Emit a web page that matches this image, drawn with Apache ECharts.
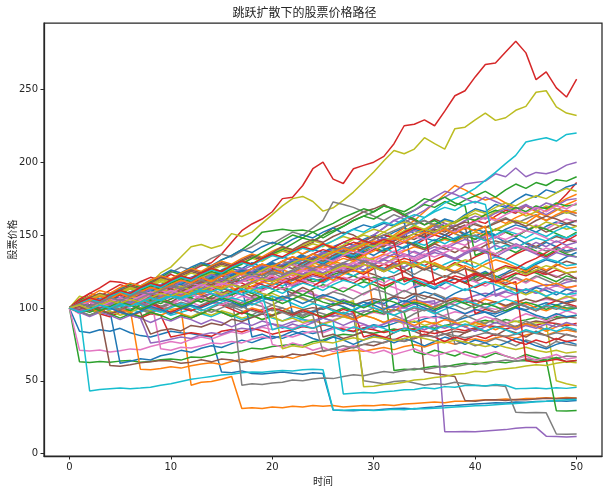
<!DOCTYPE html>
<html><head><meta charset="utf-8">
<script src="https://cdn.jsdelivr.net/npm/echarts@6/dist/echarts.min.js"></script>
<style>html,body{margin:0;padding:0;background:#fff}#c{width:609px;height:493px}</style>
</head><body><div id="c"></div>
<script>
const timeSteps = [0,1,2,3,4,5,6,7,8,9,10,11,12,13,14,15,16,17,18,19,20,21,22,23,24,25,26,27,28,29,30,31,32,33,34,35,36,37,38,39,40,41,42,43,44,45,46,47,48,49,50];
const xTicks = [0,10,20,30,40,50];
const yTicks = [0,50,100,150,200,250];
const titleText = '跳跃扩散下的股票价格路径';
const xName = '时间';
const yName = '股票价格';

const path00 = [100,84,83,85,84,86,83,81,80,82, 84,83,82.5,81,80,56,55.5,56.8,55,54.6, 55.3,56,55.2,54.5,55.6,55,30,29.6,29.5,30, 29.8,30.5,31,31.2,30.6,31.5,32,32.8,33,33.5, 34,34.5,35,34.8,35.5,35.2,35.8,36,36.3,36, 36.4];
const path01 = [100,103,101,104,106,103,105,102,104,101, 99,100,47,49,49.5,51,53,31,31.5,31, 32,31.5,32.5,32,33,32.6,33,32,32.5,33, 32.8,33.5,33,34,34.5,35,35.5,35,36,36, 36.5,37,37,37.5,37,37.8,38,38.4,38,38.5, 38.2];
const path02 = [100,63,62.5,63.2,62.8,63.5,64,62.7,63.3,64.5, 65,64.2,66.3,66,67.5,69.8,69,70.5,72.4,71.8, 73.5,74.2,75,74.3,76.8,78,80.5,82,81.2,83.5, 82.7,84,85.6,84.2,86,87.3,86.1,88,89.4,88.2, 90,91.5,89.8,92,90.6,91.8,93.5,92.1,94,93.2, 95];
const path03 = [100,105,110,113.8,118.3,117.6,116,112,110.8,112.4, 114.2,119,125.5,129,131,137,145,153,157.6,161, 166,175,176,184,195.5,200,188.4,185.4,195.5,197.8, 200,204,212.7,225,226,229,225,235,245.6,249, 258.5,267,268,275.6,283,275,256.6,262,251,244.7, 257];
const path04 = [100,102,99,101,104,106,103,100,102,105, 108,106,104,107,110,108,111,109,106,108, 105,107,110,112,109,107,104,106,103,101, 104,102,100,103,106,104,105,15,15,15.2, 15,15.5,16,16.5,17.5,18,18,12,11.8,11.5, 11.8];
const path05 = [100,98,101,103,100,97,99,102,104,101, 103,106,104,108,110,107,109,112,115,113, 116,118,115,117,120,118,121,119,122,125, 123,120,122,125,121,56,55,54,53,36.5, 36,36.8,37,36.5,37.2,37,37.5,38,37.6,38, 38];
const path06 = [100,71,70.5,71.2,69.8,70.6,71.9,71.3,73.5,75.2, 77,75.8,78.4,80.1,78.6,81.3,83.7,82.2,84.5,86.8, 85.1,87.6,86,88.9,91.2,89.5,91.7,94,92.3,94.8, 97,95.4,97.9,100.3,98.1,100.6,103,101.2,103.8,106.1, 104.3,106.9,109.5,107.2,109.8,112.4,110.1,112.7,115.2,113, 115.6];
const path07 = [100,103,105,102,104,107,105,108,106,109, 111,108,106,104,107,105,102,100,103,101, 98,100,97,95,98,96,94,97,95,50, 49,48,49.5,50,48.5,47,48,47.5,49,48, 47,46.5,47,46,28.5,28,28.3,28,13.5,13.4, 13.5];
const path08 = [100,108,106,104,108,111,113,115,117,124, 128,135,142,143.5,141,143,151,149,152,158, 164,170,175,176.5,173,166.4,168.7,173.8,179.5,186.4, 193.3,201,208,205.8,209,216.8,212.7,209,223,224, 229,233.7,228.7,230.5,235.6,238.3,248,249,238,233.7, 232];
const path09 = [100,98,43,44,44.5,45,44.6,45,45.5,47, 48,49.5,51,52,53,54,54.5,55.5,56,55.8, 56.5,57,56.8,57.5,58,57.6,30,29.8,30.2,30, 29.7,30,30.4,30.2,31,30.8,31.2,31.5,32,32.3, 32.8,33,33.5,34,34.5,35,35.6,36,36.5,37, 37.2];
const path10 = [100,102,99,101,98,62,63.4,65.1,64.3,67.2, 68.5,70.9,69.6,72.3,74,72.8,75.5,77.9,76.2,78.8, 80.6,79.1,81.7,83.9,82.4,84.1,86.6,85,83.7,86.2, 88.5,87.1,89.4,91.8,90.2,92.5,94.1,92.7,91,93.3, 95.6,97.2,95.9,98.3,100.4,98.8,101.1,103.5,101.9,104.2, 106];
const path11 = [100,104,102,105,103,101,99,58,57.5,58.4, 59.6,58.7,60.3,61.5,62.4,61.2,63.3,64.8,62.9,64.4, 65.7,66.9,65.4,67.6,68.8,66.7,68.5,69.9,71,70.2, 71.6,72.9,71.4,73.5,74.8,73.2,75.6,76.9,75.1,77.4, 78.8,77.3,79.5,80.7,79.1,81.4,82.9,81.3,83.6,84.8, 83.5];
const path12 = [100,104,107,103,106,109,111,108,112,110, 113,116,114,117,115,119,121,118,120,123, 119,122,124,121,118,120,123,125,122,119, 121,119,57,58,57.5,59,60,59.5,61,62, 61.2,62.5,63,62.4,63.5,64,63.2,64.5,29.5,29.3, 29.6];
const path13 = [100,97,99,96,94,97,95,93,96,95, 80,81.5,83,82,80.5,84,85.2,83.5,86,84.3, 82,83.6,85,87.2,86,88.4,87,85.5,84,86.3, 85,83.2,84.6,86,85.1,83.7,82.5,84,85.8,84.3, 86.5,88,87.2,85.6,87.4,89,88.1,90,89.3,87.8, 89.5];
const path14 = [100,98,101,99,96,98,95,93,76,77, 78.5,80,79,81.5,83,82,84.5,86,85,87.5, 89,88,90.5,92,91,93.6,95,94,96.5,98, 97,99.5,101,100,102.6,104,103,105.8,107,106, 108.5,110,109,111.6,113,112,114.5,116,115,117.6, 119];
const path15 = [100,102,99,97,60.5,60,61,62.3,63,64, 63.5,62,62.8,64.5,63,65,64.2,62.6,64,65.5, 67,66,68.4,67.5,69,70.6,72,71,73.4,75, 74,76.5,78,77.2,79,81,80.3,82,84,83, 85.5,84,86.8,88,87,89.4,91,90,92.6,94, 93];
const path16 = [100,103,101,104,106,109,107,105,108,72, 71,73,72.5,74,76,75.5,77,76,78.5,80, 79,81,80,82.5,84,83,85.6,87,86,88.4, 87,89,91,90,92.5,94,93,95,97.4,96, 98,100.5,99,101,103,102,104.5,106,105,107, 109];
const path17 = [100,103,106,104,108,111,109,113,110,114, 112,115,118,116,113,110,112,47,48,47.5, 48.5,49,50.5,50,51.2,52,51.5,53,54.2,53.5, 55,56.4,55.6,57,58.5,57.8,59,60.4,59.6,61, 62.3,61.5,63,64.2,63.4,65,64.6,66,65.3,67, 66.5];
const path18 = [100,98,101,99,103,105,102,100,104,106, 103,101,104,107,105,108,106,103,105,108, 110,107,109,106,104,107,105,103,105,46, 46.3,47.5,48,49,50.5,51,52.3,53,54.5,55, 56.6,56,57.5,58.3,59,60.2,61,60.5,62,63, 62.4];
const path19 = [100,103,101,98,100,102,99,97,100,98, 95,97,99,96,94,97,95,92,94,96, 93,91,94,92,90,93,91,41,41.5,42, 41.6,42.5,43,43.8,44,45.2,44.6,46,45.5,46.8, 47,46.4,47.5,47,44.5,44.8,45,44.5,45.2,44.8, 45.5];
const path20 = [100,104,102,106,109,107,111,114,112,116, 119,117,121,124,122,126,129,127,131,128, 132,135,133,137,140,138,142,145,143,147, 150,148,152,155,151,148,152,150,154,151, 149,153,150,154,157,155,152,156,159,157, 160];
const path21 = [100,97,100,103,101,105,108,106,104,107, 110,113,111,115,118,116,120,123,121,119, 122,126,124,128,131,129,133,136,134,138, 141,145,150,155,160,166,172,178,184,181, 177,174,176,172,168,170,166,163,167,171, 174];
const path22 = [100,105,108,106,110,113,116,114,118,121, 125,123,127,130,128,133,136,140,145,152, 153,154,153,153.5,152,148,152,156,160,163, 166,170,168,164,167,171,169,173,170,174, 177,180,176,181,185,182,186,184,188,187, 190];
const path23 = [100,102,99,103,106,104,108,111,109,113, 110,114,117,115,119,116,120,123,121,125, 128,126,130,127,131,134,132,136,133,137, 140,138,142,145,143,147,150,148,152,156, 160,158,163,167,165,170,168,169,171,178, 186];
const path24 = [100,103,107,105,109,112,110,114,117,115, 119,116,120,123,121,125,122,126,129,127, 131,128,132,135,133,137,140,138,142,145, 150,155,160,158,163,167,172,176,180,185, 186,187,192,190,196,190,193,192,194,198, 200];
const path25 = [100,104,101,105,108,112,109,113,116,120, 118,122,125,123,127,130,128,132,135,133, 137,140,138,142,145,150,155,158,162,166, 168,171,167,163,160,157,161,158,154,150, 147,151,148,152,149,153,156,152,155,158, 156];
const path26 = [100,98,102,105,103,107,104,108,111,109, 106,110,113,111,115,112,116,119,117,120, 118,122,125,123,126,129,127,131,128,132, 135,133,137,140,138,135,139,142,145,143, 147,150,148,152,155,153,157,154,158,161, 159];
const path27 = [100,103,106,104,108,111,115,113,117,120, 124,128,126,130,134,137,135,139,142,146, 144,148,152,150,155,160,172.7,171,169,166, 163,160,164,161,157,160,156,153,157,154, 158,155,159,162,158,161,164,160,163,166, 163];
const path28 = [100,97,99,96,98,95,97,100,98,101, 99,96,94,97,95,98,96,93,95,92, 94,91,93,90,92,89,91,94,92,95, 93,90,92,89,91,88,90,87,89,91, 88,90,92,89,91,88,90,89,50,48, 46.5];
const path29 = [100,102,105,103,107,104,108,111,109,113, 116,114,118,115,119,122,120,124,121,125, 128,126,130,133,131,135,138,136,140,143, 141,145,148,152,157,162,167,172,175,178, 182,187.5,193,199,204.7,213.8,215.4,216.8,214.5,219, 220];
const path30 = [100,104,108,106,110,113,117,115,119,122, 126,124,128,131,129,133,136,140,138,142, 145,143,147,150,148,152,155,151,154,157, 155,158,156,160,114,116,113,117,120,118, 122,125,121,124,128,126,130,133,131,135, 138];
const path31 = [100,99,102,100,104,107,105,103,106,109, 112,110,108,111,114,117,115,119,122,120, 118,121,124,127,125,129,132,130,127,131, 134,137,135,139,142,140,144,147,145,149, 152,150,154,157,160,158,163,167,171,175, 178];
const path32 = [100,103,100,97,101,104,102,106,109,107, 111,114,112,116,113,117,120,118,122,125, 123,127,130,128,132,135,133,137,134,138, 141,139,143,146,144,141,145,148,146,150, 147,151,154,152,149,153,156,154,151,148, 152];
const path33 = [100,106,110,108,112,116,114,118,121,119, 123,120,117,121,124,122,118,121,125,123, 127,124,120,123,127,130,128,125,129,132, 130,127,131,134,132,129,133,136,134,131, 135,138,136,133,137,140,138,135,139,142, 140];
const path34 = [100,102,106,104,108,105,109,112,110,114, 111,115,118,116,120,117,121,124,122,126, 123,127,130,128,132,135,133,137,140,145, 150,155,160,163,167,172,176,180,178,175, 172,176,173,170,168,171,167,164,168,166, 165];
const path35 = [100,97,101,104,102,106,109,107,111,114, 112,116,113,117,120,118,122,125,123,127, 130,128,132,129,133,136,134,138,141,139, 143,146,144,148,151,149,153,150,154,157, 118,121,119,123,126,124,128,125,129,132, 130];
const path36 = [100,96,99,102,100,97,101,104,102,99, 103,106,104,101,105,108,106,103,107,110, 108,105,109,112,110,107,111,114,112,109, 113,116,114,111,115,118,116,113,117,120, 118,115,119,122,120,117,121,124,122,119, 121];
const path37 = [100,104,101,98,102,105,103,100,97,101, 104,102,99,96,100,103,101,98,95,99, 102,100,97,94,98,101,99,96,93,97, 100,98,95,92,96,99,97,94,91,95, 92,89,93,90,87,91,88,85,89,86, 84];
const path38 = [100,103,107,110,108,112,115,113,117,120, 118,122,119,123,127,125,129,132,130,134, 137,141,139,143,146,144,140,143,147,150, 148,152,149,153,156,154,158,155,151,148, 152,156,153,157,160,158,155,159,157,154, 156];
const path39 = [100,98,101,99,103,106,104,108,105,109, 112,110,107,111,114,112,116,113,110,114, 117,115,119,122,120,117,121,124,122,126, 129,127,124,128,131,129,126,130,133,131, 128,132,135,133,130,127,131,134,132,129, 130];
const path40 = [100,103,106,104,108,111,109,113,116,114, 118,121,119,123,120,124,127,125,122,126, 129,127,96,99,97,100,103,101,98,102, 105,103,107,104,108,111,109,106,110,113, 111,108,112,115,113,110,114,112,109,113, 111];
const path41 = [100,104,108,112,110,114,117,115,119,122, 120,124,127,125,129,132,130,134,137,135, 139,142,140,137,141,144,142,139,143,146, 97,100,98,102,105,103,100,104,107,105, 102,106,104,101,105,103,100,98,101,99, 100];
const path42 = [100,99,97,100,103,101,98,102,105,103, 106,109,107,104,108,111,109,112,110,107, 111,114,112,109,113,116,114,111,115,118, 116,113,117,120,118,115,119,122,120,117, 121,124,122,119,123,126,124,121,118,122, 120];
const path43 = [100,102,105,103,107,110,108,105,109,112, 110,107,111,114,112,116,119,117,114,118, 121,119,116,120,123,121,125,128,126,123, 127,130,128,125,129,132,130,127,131,128, 96,99,97,100,103,101,98,102,105,103, 101];
const path44 = [100,101,98,102,99,103,106,104,101,105, 108,106,103,107,110,108,112,115,113,117, 120,118,115,119,122,120,124,127,125,129, 132,130,134,137,135,139,142,140,144,147, 145,149,108,111,109,113,110,114,111,109, 112];
const path45 = [100,103,100,104,107,105,102,106,109,107, 104,108,111,109,106,110,113,111,108,112, 115,113,110,114,111,80,82,79,81,84, 82,79,83,86,84,81,85,82,79,83, 86,84,81,85,83,80,84,81,78,82, 80];
const path46 = [100,102,99,103,101,105,108,106,103,107, 110,108,105,109,112,110,107,111,114,112, 115,113,116,119,117,114,118,121,119,122, 120,117,121,86,88,85,89,92,90,87, 91,94,92,89,93,96,94,91,95,98, 96];
const path47 = [100,97,100,103,101,98,102,99,96,100, 103,101,98,102,105,103,100,104,107,105, 102,106,109,107,104,108,111,109,106,110, 113,111,108,112,109,106,110,107,75,77, 74,76,79,77,74,78,76,73,77,75, 74];
const path48 = [100,102,105,108,106,110,113,111,115,118, 116,120,117,121,124,122,126,123,127,130, 128,132,129,126,130,133,131,128,132,135, 133,130,134,131,128,132,129,126,130,127, 124,121,118,115,112,109,112,108,105,108, 106];
const path49 = [100,104,102,106,109,107,111,108,112,115, 113,117,120,118,122,119,123,126,124,128, 125,129,132,130,134,131,135,138,136,140, 143,141,138,142,145,143,147,144,148,151, 149,146,150,153,151,148,152,149,153,156, 153];
const path50 = [100,102,99,103,106,104,107,105,108,111, 109,112,110,113,116,114,111,115,80,82, 79,81,84,82,79,77,80,78,75,78, 81,79,76,79,77,74,77,80,78,75, 78,76,73,76,79,77,74,72,75,77, 75];
const path51 = [100,98,101,99,96,99,97,94,97,95, 98,96,93,96,99,97,94,97,100,98, 95,98,101,99,96,94,97,95,92,95, 93,90,93,91,88,91,89,92,90,87, 90,88,85,88,86,89,87,84,87,89, 88];
const path52 = [100,97,95,98,96,93,96,94,97,95, 92,95,93,96,99,97,94,97,95,92, 95,98,96,93,96,94,97,100,98,95, 98,96,99,97,70,68,71,69,67,70, 68,66,69,67,65,68,66,64,66,63, 64];
const path53 = [100,103,101,104,102,99,102,105,103,100, 97,100,98,101,104,102,99,96,99,97, 100,98,95,98,96,93,96,99,97,80, 82,80,78,81,79,82,80,77,80,78, 81,79,82,80,77,75,78,76,79,77, 78];
const path54 = [100,97,94,97,95,92,95,93,90,93, 91,94,92,89,92,90,87,90,88,91, 89,86,89,87,90,93,91,88,91,89, 86,89,92,90,87,85,88,86,89,87, 84,87,90,88,85,88,86,89,87,90, 88];
const path55 = [100,98,101,99,96,98,95,97,82,84.5, 85.7,84.2,88,86.9,89.5,88.1,92.2,90.7,93.4,95.8, 94.6,97,96.1,98.7,100.2,99,101.6,103.4,101.8,104.5, 106.3,105,107.8,106.4,109.9,108.2,106.5,104.1,106.2,103.3, 105.4,102.5,104.3,101.7,103.5,106.1,104.2,107,105.1,103.2, 105];
const path56 = [100,103,105,102,106,104,101,104,107,105, 102,106,109,107,104,102,105,108,106,103, 75,73,76,74,71,73,70,72,74,71, 69,71,68,70,72,69,67,69,71,68, 66,68,70,67,65,67,64,66,68,65, 66];
const path57 = [100,102,104,101,99,102,105,103,100,98, 101,104,102,99,97,100,103,101,98,96, 99,97,94,97,95,70,72,74,72.5,75, 77,76,78.5,77,79.4,81,80,82.3,81,79.5, 81,83,82,80.4,82,84,82.5,81,83,81.6, 80];
const path58 = [100,104,102,105,108,106,109,107,110,113, 111,108,111,114,112,109,112,115,113,110, 108,72,74,73,75.5,77,76,78,79.5,78, 80,79,77.5,79,80.6,79,77.4,76,78,76.5, 75,73.6,75,73,71.5,73,71,69.6,71,69, 70];
const path59 = [100,97,100,102,99,101,104,102,99,97, 100,103,101,98,101,104,107,105,102,105, 108,106,103,100,103,101,98,96,99,102, 100,97,95,98,101,99,96,99,102,105, 103,100,103,106,104,101,99,102,100,98, 100];
const path60 = [100,104,107,105,109,106,110,113,111,115, 112,116,119,117,121,124,122,126,123,127, 130,128,132,135,133,130,134,137,135,139, 136,140,143,141,145,148,146,150,147,151, 154,152,149,145,148,144,141,145,142,139, 141];
const path61 = [100,102,100,97,101,104,102,106,103,107, 110,108,112,109,113,116,114,111,115,118, 116,120,117,121,124,122,119,123,126,124, 128,125,129,132,130,127,131,128,125,129, 126,130,133,131,128,125,129,126,130,127, 128];
const path62 = [100,103,106,104,108,112,110,114,117,115, 119,122,120,124,127,125,129,132,130,134, 137,140,144,148,146,150,153,156,160,163, 161,165,168,166,170,175,173,176,172,170, 136,139,137,141,138,142,139,136,140,137, 135];
const path63 = [100,102,99,103,106,104,107,110,108,111, 114,112,109,113,116,114,111,115,118,116, 113,117,120,118,115,119,122,120,117,121, 118,115,118,121,119,116,119,122,120,117, 114,117,119,116,118,64,62.5,63.5,64.8,63.2, 64];
const path64 = [100,102,105,108,106,103,107,110,108,105, 109,112,115,113,116,119,117,114,118,121, 119,122,125,123,126,124,121,125,128,126, 130,133,131,128,132,135,138,136,133,137, 140,138,135,139,142,140,137,134,138,136, 135];
const path65 = [100,103,107,110,108,112,115,113,117,121, 119,123,126,124,128,131,129,133,136,134, 138,142,140,144,147,145,149,152,150,146, 149,145,142,146,143,140,144,141,138,142, 139,143,146,144,141,145,142,146,149,147, 145];
const path66 = [100,99,102,105,103,107,110,108,111,114, 112,116,119,117,113,116,120,123,121,125, 122,118,121,125,128,126,130,127,131,134, 132,136,139,137,133,136,140,143,141,138, 142,145,149,147,150,153,151,148,145,148, 146];
const path67 = [100,98,95,98,101,99,103,106,104,108, 111,109,113,110,114,117,115,119,122,120, 124,121,125,128,126,123,127,130,128,132, 129,126,130,127,123,127,124,121,125,122, 119,123,120,117,121,118,122,119,116,120, 118];
const path68 = [100,102,106,109,107,111,114,112,116,119, 117,121,124,122,126,129,127,131,134,132, 136,139,137,141,144,142,146,149,147,151, 154,152,156,159,157,153,157,160,158,162, 165,162,166,169,167,163,166,170,168,165, 167];
const path69 = [100,103,101,104,107,105,108,106,103,106, 109,107,110,113,111,114,112,109,112,115, 113,110,114,117,115,112,116,119,117,114, 118,121,119,116,120,117,114,118,115,112, 115,118,116,113,110,113,111,108,111,109, 110];
const path70 = [100,103,101,105,108,106,110,113,111,115, 118,116,120,117,121,125,123,127,124,128, 131,129,133,136,134,138,141,139,137,141, 144,148,146,150,154,152,157,161,159,164, 168,166,171,169,174,178,176,181,179,183, 185];
const path71 = [100,98,102,105,103,107,110,108,106,110, 113,111,115,118,116,114,118,121,119,123, 126,124,122,126,129,127,131,134,132,136, 139,143,147,151,155,153,157,155,159,162, 160,164,161,158,162,165,163,160,164,167, 165];
const path72 = [100,102,105,103,107,110,108,112,115,113, 117,120,118,122,125,123,127,130,134,138, 142,146,150,148,152,155,158,162,165,168, 166,170,168,164,161,157,160,156,159,162, 160,164,167,165,169,166,170,168,172,170, 171];
const path73 = [100,101,104,102,106,109,107,111,114,112, 116,113,117,120,118,122,125,123,127,130, 128,132,135,133,137,140,138,142,145,143, 147,150,148,152,155,153,116,119,117,121, 124,122,126,129,127,131,134,138,142,146, 150];
const path74 = [100,104,102,106,103,107,111,109,113,116, 114,118,121,119,123,120,124,127,125,129, 126,130,133,131,135,138,136,140,143,141, 145,148,146,150,153,151,155,158,156,160, 163,161,165,168,166,170,168,172,170,174, 175];
const path75 = [100,99,102,100,104,107,105,109,106,110, 113,111,115,118,116,120,117,121,124,122, 126,129,127,131,134,132,136,139,137,141, 144,142,146,149,147,151,154,152,156,159, 157,155,158,161,159,156,160,163,161,158, 160];
const path76 = [100,102,100,103,106,104,108,105,109,112, 110,114,117,115,119,116,120,123,121,125, 128,126,130,127,131,134,132,136,139,137, 141,144,142,146,149,147,151,154,152,156, 159,162,160,164,167,165,169,166,170,168, 172];
const path77 = [100,102,105,103,107,110,108,112,109,113, 116,114,118,121,119,123,120,124,127,125, 129,132,130,134,137,135,139,142,140,144, 147,150,153,156,158,160,157,154,151,148, 150,147,144,146,143,140,142,139,141,138, 140];
const path78 = [100,97,100,103,101,105,108,106,110,113, 111,115,112,116,119,117,121,124,122,126, 129,127,131,134,132,136,139,137,141,144, 142,146,149,147,151,154,152,156,159,163, 167,165,169,172,170,174,177,175,179,182, 180];
const path79 = [100,103,106,104,108,111,109,113,116,114, 118,121,119,123,126,124,128,131,129,133, 136,134,138,141,139,143,146,150,154,152, 156,159,157,161,164,162,166,169,167,171, 173,171,140,143,141,145,148,146,150,148, 151];
const path80 = [100,97,99,102,100,97,95,98,101,99, 96,99,102,100,103,106,104,101,104,107, 105,108,106,103,106,109,107,104,101,104, 102,99,102,105,103,100,98,101,99,96, 99,97,94,97,100,98,95,93,96,94, 95];
const path81 = [100,102,105,108,106,110,107,111,114,112, 116,119,117,121,118,122,125,123,127,130, 128,132,135,133,137,134,138,141,139,143, 146,144,148,145,149,152,150,154,151,155, 153,156,117,119,116,120,118,115,117,114, 115];
const path82 = [100,103,101,98,101,104,102,99,102,105, 103,100,103,106,104,107,105,102,105,108, 106,103,106,109,107,104,102,105,103,100, 103,106,104,101,104,102,99,102,105,103, 100,103,101,98,101,104,102,99,102,100, 100];
const path83 = [100,104,107,105,109,112,110,114,117,115, 119,122,120,124,127,125,129,132,130,134, 137,135,139,142,140,144,141,145,148,146, 144,147,145,118,121,119,116,119,122,120, 123,121,118,121,124,122,125,123,126,124, 125];
const path84 = [100,98,101,104,102,106,103,107,110,108, 112,109,113,116,114,117,115,119,122,120, 118,122,125,123,127,124,128,131,129,133, 130,134,137,135,139,136,140,137,134,138, 141,139,143,140,144,141,145,142,146,143, 145];
const path85 = [100,101,98,102,105,103,106,104,107,110, 108,111,109,112,115,113,116,114,117,120, 118,121,119,122,125,123,126,124,127,130, 128,125,128,131,129,126,129,127,124,127, 125,122,125,128,126,123,126,124,121,124, 120];
const path86 = [100,102,104,101,104,107,105,108,111,109, 112,110,113,116,114,117,115,118,121,119, 122,120,123,126,124,127,125,128,131,129, 132,130,133,136,134,137,135,138,141,139, 142,140,137,140,143,141,138,141,139,142, 140];
const path87 = [100,103,101,104,107,105,108,111,109,112, 115,113,116,119,117,120,118,121,124,122, 125,123,126,129,127,130,128,131,134,132, 130,96,99,97,100,98,101,104,102,99, 102,100,97,100,103,101,98,101,99,102, 100];
const path88 = [100,102,99,102,105,103,106,104,107,110, 108,111,109,112,115,113,116,114,117,120, 118,121,124,122,125,123,126,129,127,130, 128,125,128,131,129,132,130,127,130,133, 131,128,125,128,126,123,126,129,127,124, 125];
const path89 = [100,97,99,102,100,103,101,104,107,105, 108,106,109,112,110,107,110,113,111,109, 85,87,85,88,86,89,87,84,87,85, 88,86,83,86,84,87,85,88,86,89, 87,84,87,85,82,85,83,86,84,87, 85];

const paths = [path00,path01,path02,path03,path04,path05,path06,path07,path08,path09,
  path10,path11,path12,path13,path14,path15,path16,path17,path18,path19,
  path20,path21,path22,path23,path24,path25,path26,path27,path28,path29,
  path30,path31,path32,path33,path34,path35,path36,path37,path38,path39,
  path40,path41,path42,path43,path44,path45,path46,path47,path48,path49,
  path50,path51,path52,path53,path54,path55,path56,path57,path58,path59,
  path60,path61,path62,path63,path64,path65,path66,path67,path68,path69,
  path70,path71,path72,path73,path74,path75,path76,path77,path78,path79,
  path80,path81,path82,path83,path84,path85,path86,path87,path88,path89];

const palette = ['#1f77b4','#ff7f0e','#2ca02c','#d62728','#9467bd','#8c564b','#e377c2','#7f7f7f','#bcbd22','#17becf'];
const ink = '#262626';
const cjk = "'Noto Sans CJK SC', 'DejaVu Sans', sans-serif";
const num = "'DejaVu Sans', sans-serif";

const chart = echarts.init(document.getElementById('c'), null, {renderer: 'canvas'});
const series = paths.map((p, k) => ({
  type: 'line',
  name: 'path' + k,
  data: timeSteps.map((t, i) => [t, p[i]]),
  showSymbol: false,
  symbol: 'none',
  silent: true,
  animation: false,
  lineStyle: {width: 1.5, color: palette[k % palette.length]},
  itemStyle: {color: palette[k % palette.length]},
  emphasis: {disabled: true}
}));

chart.setOption({
  animation: false,
  backgroundColor: '#ffffff',
  color: palette,
  title: {
    text: titleText, left: 'center', top: 6, padding: 0,
    textStyle: {fontSize: 12, fontWeight: 'normal', color: ink, fontFamily: cjk}
  },
  grid: {left: 44, right: 7, top: 23, bottom: 37, containLabel: false, outerBoundsMode: 'none',
    show: true, borderColor: ink, borderWidth: 1.25, backgroundColor: '#fff'},
  xAxis: {
    type: 'value', min: -2.5, max: 52.5,
    name: xName, nameLocation: 'middle', nameGap: 20, nameMoveOverlap: false,
    nameTextStyle: {fontSize: 10, color: ink, fontFamily: cjk},
    axisLine: {show: true, onZero: false, lineStyle: {color: ink, width: 1.25}},
    axisTick: {show: true, customValues: xTicks, length: 3.5, lineStyle: {color: ink, width: 1}},
    axisLabel: {customValues: xTicks, color: ink, fontSize: 10, margin: 6, fontFamily: num},
    splitLine: {show: false}
  },
  yAxis: {
    type: 'value', min: -1.6, max: 295.5,
    name: yName, nameLocation: 'middle', nameGap: 27, nameMoveOverlap: false,
    nameTextStyle: {fontSize: 10, color: ink, fontFamily: cjk},
    axisLine: {show: true, onZero: false, lineStyle: {color: ink, width: 1.25}},
    axisTick: {show: true, customValues: yTicks, length: 3.5, lineStyle: {color: ink, width: 1}},
    axisLabel: {customValues: yTicks, color: ink, fontSize: 10, margin: 6, fontFamily: num},
    splitLine: {show: false}
  },
  series: series
});
</script>
</body></html>
